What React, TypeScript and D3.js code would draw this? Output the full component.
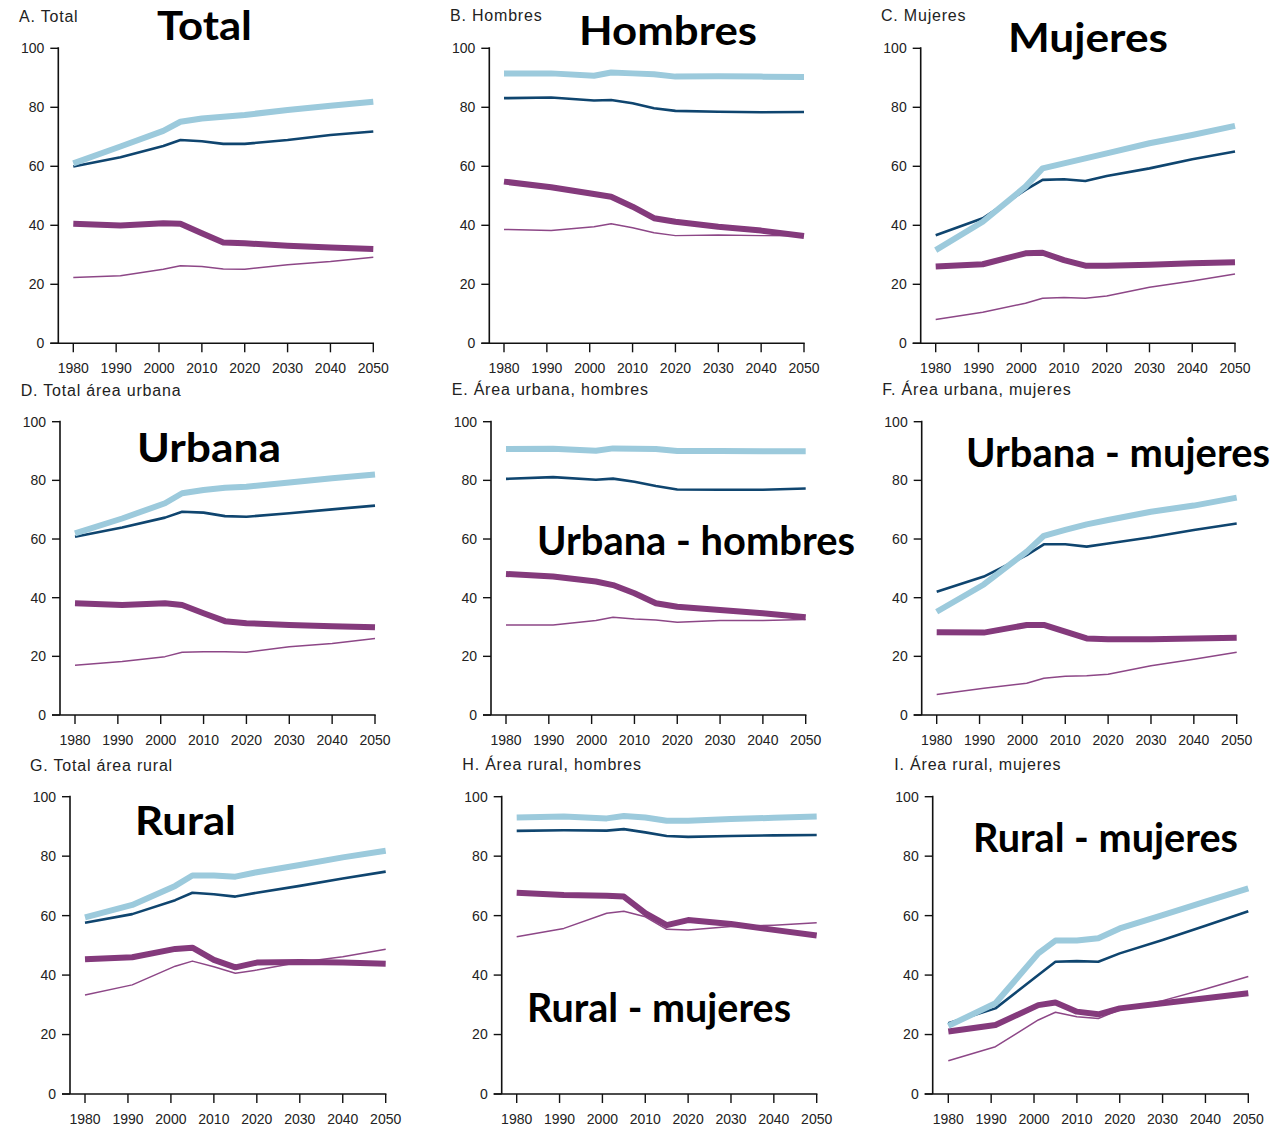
import React from "react";
import * as d3 from "d3";

// ---------- data ----------
const years = [1980, 1991, 2001, 2005, 2010, 2015, 2020, 2030, 2040, 2050];
const xTicks = [1980, 1990, 2000, 2010, 2020, 2030, 2040, 2050];
const yTicks = [0, 20, 40, 60, 80, 100];

// Series: light = light blue thick, dark = dark blue, purpleThick, purpleThin
const A_light = [61.0, 66.7, 72.0, 75.1, 76.2, 76.8, 77.4, 79.1, 80.5, 81.9];
const A_dark = [59.9, 63.1, 66.9, 68.9, 68.5, 67.6, 67.6, 68.9, 70.6, 71.8];
const A_pThick = [40.5, 39.9, 40.7, 40.5, 37.3, 34.2, 33.9, 33.1, 32.5, 32.0];
const A_pThin = [22.3, 22.9, 25.1, 26.3, 26.0, 25.2, 25.1, 26.6, 27.7, 29.2];

const B_light = [91.5, 91.5, 90.7, 91.8, 91.5, 91.2, 90.4, 90.5, 90.4, 90.3];
const B_dark = [83.1, 83.3, 82.3, 82.5, 81.4, 79.7, 78.8, 78.5, 78.3, 78.4];
const B_pThick = [54.8, 52.9, 50.6, 49.7, 46.3, 42.4, 41.2, 39.5, 38.2, 36.4];
const B_pThin = [38.6, 38.2, 39.5, 40.5, 39.2, 37.5, 36.5, 36.7, 36.5, 36.5];

const C_light = [31.6, 41.2, 53.1, 59.3, 61.0, 62.7, 64.4, 67.8, 70.6, 73.7];
const C_dark = [36.6, 42.4, 52.0, 55.4, 55.6, 55.0, 56.7, 59.3, 62.4, 65.0];
const C_pThick = [26.0, 26.8, 30.5, 30.7, 28.2, 26.3, 26.3, 26.6, 27.1, 27.5];
const C_pThin = [8.1, 10.5, 13.6, 15.3, 15.5, 15.3, 16.0, 19.0, 21.1, 23.5];

const D_light = [61.9, 67.0, 72.2, 75.6, 76.7, 77.5, 77.8, 79.3, 80.7, 82.0];
const D_dark = [60.8, 63.9, 67.3, 69.3, 69.0, 67.8, 67.6, 68.8, 70.1, 71.4];
const D_pThick = [38.1, 37.5, 38.1, 37.5, 34.7, 32.0, 31.3, 30.7, 30.3, 29.9];
const D_pThin = [17.0, 18.2, 19.9, 21.4, 21.6, 21.6, 21.4, 23.3, 24.4, 26.1];

const E_light = [90.7, 90.8, 90.1, 90.9, 90.8, 90.7, 90.0, 90.0, 89.9, 89.9];
const E_dark = [80.5, 81.1, 80.2, 80.6, 79.5, 78.1, 76.9, 76.8, 76.8, 77.2];
const E_pThick = [48.1, 47.2, 45.5, 44.3, 41.5, 38.1, 36.9, 35.8, 34.7, 33.3];
const E_pThin = [30.7, 30.7, 32.2, 33.3, 32.7, 32.4, 31.6, 32.2, 32.2, 32.6];

const F_light = [35.2, 44.5, 55.7, 61.1, 63.1, 65.0, 66.5, 69.3, 71.4, 74.1];
const F_dark = [42.0, 47.2, 54.5, 58.2, 58.2, 57.4, 58.5, 60.6, 63.1, 65.3];
const F_pThick = [28.2, 28.1, 30.7, 30.7, 28.4, 26.1, 25.8, 25.8, 26.1, 26.3];
const F_pThin = [7.0, 9.1, 10.8, 12.5, 13.2, 13.4, 13.9, 16.8, 19.0, 21.4];

const G_light = [59.4, 63.6, 70.0, 73.5, 73.5, 73.1, 74.6, 77.0, 79.6, 81.8];
const G_dark = [57.6, 60.5, 65.2, 67.7, 67.2, 66.4, 67.7, 70.0, 72.5, 74.8];
const G_pThick = [45.3, 46.0, 48.8, 49.2, 45.1, 42.6, 44.2, 44.4, 44.2, 43.8];
const G_pThin = [33.3, 36.7, 43.0, 44.7, 42.8, 40.6, 41.7, 44.3, 46.2, 48.7];

const H_light = [93.0, 93.3, 92.7, 93.5, 93.0, 91.9, 91.9, 92.5, 92.9, 93.3];
const H_dark = [88.5, 88.7, 88.6, 89.1, 88.0, 86.8, 86.5, 86.8, 87.0, 87.1];
const H_pThick = [67.7, 66.9, 66.7, 66.4, 60.8, 56.8, 58.5, 57.2, 55.2, 53.3];
const H_pThin = [52.9, 55.7, 60.8, 61.5, 59.6, 55.4, 55.2, 56.3, 56.8, 57.6];

const I_light = [22.9, 30.5, 47.3, 51.6, 51.6, 52.4, 55.7, 60.2, 64.7, 69.2];
const I_dark = [23.8, 28.8, 40.0, 44.5, 44.7, 44.5, 47.3, 51.8, 56.6, 61.5];
const I_pThick = [21.0, 23.2, 29.9, 30.8, 27.7, 26.8, 28.8, 30.5, 32.2, 33.9];
const I_pThin = [11.2, 15.9, 24.9, 27.5, 26.0, 25.4, 28.3, 31.4, 35.3, 39.5];

const panelTitles = [
  "A. Total",
  "B. Hombres",
  "C. Mujeres",
  "D. Total área urbana",
  "E. Área urbana, hombres",
  "F. Área urbana, mujeres",
  "G. Total área rural",
  "H. Área rural, hombres",
  "I. Área rural, mujeres",
];
const overlayLabels = [
  "Total",
  "Hombres",
  "Mujeres",
  "Urbana",
  "Urbana - hombres",
  "Urbana - mujeres",
  "Rural",
  "Rural - mujeres",
  "Rural - mujeres",
];
const panelSeries = [
  [A_pThin, A_pThick, A_dark, A_light],
  [B_pThin, B_pThick, B_dark, B_light],
  [C_pThin, C_pThick, C_dark, C_light],
  [D_pThin, D_pThick, D_dark, D_light],
  [E_pThin, E_pThick, E_dark, E_light],
  [F_pThin, F_pThick, F_dark, F_light],
  [G_pThin, G_pThick, G_dark, G_light],
  [H_pThin, H_pThick, H_dark, H_light],
  [I_pThin, I_pThick, I_dark, I_light],
];

// ---------- layout / style ----------
const seriesStyle = [
  { color: "#8d4787", width: 1.5 },
  { color: "#843a7c", width: 6 },
  { color: "#0f456f", width: 2.6 },
  { color: "#9ccadc", width: 6 },
];

const layout = [
  { ax: 58.3, x0: 73.3, x1: 373.3, yTop: 48.3, yBot: 343.3, tx: 19, ty: 22 },
  { ax: 489.3, x0: 504, x1: 804, yTop: 48.3, yBot: 343.3, tx: 450, ty: 20.5 },
  { ax: 920.7, x0: 935.7, x1: 1235, yTop: 48.3, yBot: 343.3, tx: 881, ty: 21 },
  { ax: 60, x0: 75, x1: 375, yTop: 421.7, yBot: 715, tx: 20.7, ty: 395.5 },
  { ax: 491, x0: 506, x1: 805.7, yTop: 421.7, yBot: 715, tx: 451.7, ty: 395 },
  { ax: 921.7, x0: 936.7, x1: 1236.7, yTop: 421.7, yBot: 715, tx: 882.3, ty: 395 },
  { ax: 70, x0: 85, x1: 385.7, yTop: 796.7, yBot: 1094, tx: 30, ty: 770.5 },
  { ax: 501.7, x0: 516.7, x1: 816.7, yTop: 796.7, yBot: 1094, tx: 462.3, ty: 770 },
  { ax: 932.7, x0: 948.3, x1: 1248.3, yTop: 796.7, yBot: 1094, tx: 894.3, ty: 770 },
];

const overlayPos = [
  { x: 157, y: 40, w: 95 },
  { x: 579, y: 45, w: 178 },
  { x: 1008, y: 51.7, w: 160 },
  { x: 137, y: 462, w: 144 },
  { x: 537, y: 555, w: 318 },
  { x: 966, y: 467, w: 304 },
  { x: 135, y: 835, w: 101 },
  { x: 527, y: 1022, w: 264 },
  { x: 973, y: 852, w: 265 },
];

const tickFont = "'Liberation Sans', Arial, sans-serif";

function Panel({ idx }: { idx: number }) {
  const L = layout[idx];
  const x = d3.scaleLinear().domain([1980, 2050]).range([L.x0, L.x1]);
  const y = d3.scaleLinear().domain([0, 100]).range([L.yBot, L.yTop]);
  const line = d3
    .line<number>()
    .x((_, i) => x(years[i]))
    .y((v) => y(v));
  const axisColor = "#111";
  return (
    <g>
      <text
        x={L.tx}
        y={L.ty}
        fontFamily={tickFont}
        fontSize={16}
        letterSpacing={0.8}
        fill="#222"
      >
        {panelTitles[idx]}
      </text>
      {/* y axis */}
      <line x1={L.ax} x2={L.ax} y1={y(100) - 1} y2={y(0)} stroke={axisColor} strokeWidth={1.6} />
      {yTicks.map((t) => (
        <g key={"y" + t}>
          <line x1={L.ax - 8} x2={L.ax} y1={y(t)} y2={y(t)} stroke={axisColor} strokeWidth={1.4} />
          <text
            x={L.ax - 14}
            y={y(t)}
            dy="0.35em"
            textAnchor="end"
            fontFamily={tickFont}
            fontSize={14}
            fill="#222"
          >
            {t}
          </text>
        </g>
      ))}
      {/* x axis */}
      <line x1={L.ax - 8} x2={x(2050) + 0.7} y1={y(0)} y2={y(0)} stroke={axisColor} strokeWidth={1.6} />
      {xTicks.map((t) => (
        <g key={"x" + t}>
          <line x1={x(t)} x2={x(t)} y1={y(0)} y2={y(0) + 9} stroke={axisColor} strokeWidth={1.4} />
          <text
            x={x(t)}
            y={y(0) + 30}
            textAnchor="middle"
            fontFamily={tickFont}
            fontSize={14}
            fill="#222"
          >
            {t}
          </text>
        </g>
      ))}
      {panelSeries[idx].map((vals, si) => (
        <path
          key={"s" + si}
          d={line(vals) || ""}
          fill="none"
          stroke={seriesStyle[si].color}
          strokeWidth={seriesStyle[si].width}
          strokeLinejoin="round"
          strokeLinecap="butt"
        />
      ))}
      <text
        x={overlayPos[idx].x}
        y={overlayPos[idx].y}
        fontFamily="Lato, 'Open Sans', sans-serif"
        fontWeight={700}
        fontSize={40}
        textLength={overlayPos[idx].w}
        lengthAdjust="spacingAndGlyphs"
        fill="#000"
      >
        {overlayLabels[idx]}
      </text>
    </g>
  );
}

export default function App() {
  return (
    <svg
      width={1274}
      height={1127}
      style={{ position: "absolute", left: 0, top: 0, background: "#fff" }}
    >
      <rect x={0} y={0} width={1274} height={1127} fill="#fff" />
      {layout.map((_, i) => (
        <Panel key={i} idx={i} />
      ))}
    </svg>
  );
}
